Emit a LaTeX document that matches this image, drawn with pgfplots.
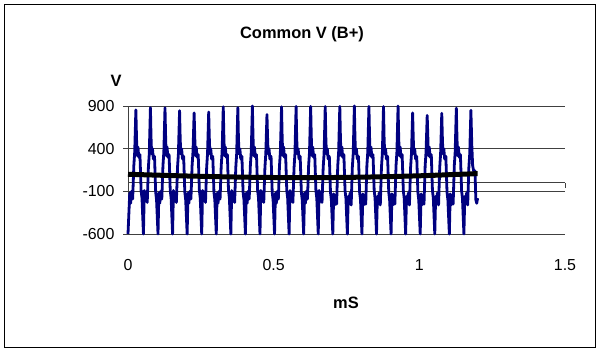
\documentclass[border=0pt]{standalone}
\usepackage{pgfplots}
\pgfplotsset{compat=1.18}
\usepackage{fontspec}
\setmainfont{Liberation Sans}
\definecolor{navy}{HTML}{000080}
\begin{document}
\begin{tikzpicture}
\useasboundingbox (0bp,0bp) rectangle (597bp,349bp);
\draw[black, line width=1bp] (4.5bp,1.5bp) rectangle (595.5bp,344.5bp);
\node[font=\fontsize{16.5}{18}\selectfont\bfseries] at (302bp,315bp) {Common V (B+)};
\node[font=\fontsize{16.5}{18}\selectfont\bfseries] at (116bp,268bp) {V};
\node[font=\fontsize{16.5}{18}\selectfont\bfseries] at (346bp,46bp) {mS};
\begin{axis}[
  at={(128bp,115bp)}, anchor=south west,
  scale only axis, width=437bp, height=128bp,
  xmin=0, xmax=1.5, ymin=-600, ymax=900,
  xtick={0,0.5,1,1.5}, ytick={-600,-100,400,900},
  axis x line*=bottom, axis y line*=left,
  x axis line style={draw=none}, xtick style={draw=none},
  y axis line style={black!75, line width=0.8bp},
  ytick style={black!75, line width=0.8bp},
  tick align=outside, major tick length=5bp,
  ymajorgrids, major grid style={black!75, line width=0.8bp},
  /pgf/number format/assume math mode=true,
  tick label style={font=\fontsize{16}{18}\selectfont},
  yticklabel style={xshift=-5bp},
  xticklabel style={yshift=-17bp},
  clip=false,
]
\draw[black!75, line width=0.8bp] (axis cs:0,0) -- (axis cs:1.5,0);
\draw[black!75, line width=0.8bp] (axis cs:1.5,0) -- (axis cs:1.5,-60);
\addplot[navy, line width=2.8bp, line join=round] coordinates {
(0,-600) (0.006,-120) (0.009,-240) (0.012,-100) (0.016,-190) (0.020,200) (0.023,360) (0.027,855) (0.029,560) (0.031,320) (0.034,420) (0.037,300) (0.041,330) (0.045,-90) (0.048,-180)
(0.053,-600) (0.056,-90) (0.059,-210) (0.062,-140) (0.066,-230) (0.070,180) (0.073,340) (0.077,880) (0.079,540) (0.081,340) (0.084,400) (0.087,280) (0.091,310) (0.095,-110) (0.098,-200)
(0.103,-600) (0.106,-120) (0.109,-240) (0.112,-100) (0.116,-190) (0.120,200) (0.123,360) (0.127,880) (0.129,560) (0.131,320) (0.134,420) (0.137,300) (0.141,330) (0.145,-90) (0.148,-180)
(0.153,-600) (0.156,-90) (0.159,-210) (0.162,-140) (0.166,-230) (0.170,180) (0.173,340) (0.177,845) (0.179,540) (0.181,340) (0.184,400) (0.187,280) (0.191,310) (0.195,-110) (0.198,-200)
(0.203,-600) (0.206,-120) (0.209,-240) (0.212,-100) (0.216,-190) (0.220,200) (0.223,360) (0.227,820) (0.229,560) (0.231,320) (0.234,420) (0.237,300) (0.241,330) (0.245,-90) (0.248,-180)
(0.253,-600) (0.256,-90) (0.259,-210) (0.262,-140) (0.266,-230) (0.270,180) (0.273,340) (0.277,830) (0.279,540) (0.281,340) (0.284,400) (0.287,280) (0.291,310) (0.295,-110) (0.298,-200)
(0.303,-600) (0.306,-120) (0.309,-240) (0.312,-100) (0.316,-190) (0.320,200) (0.323,360) (0.327,890) (0.329,560) (0.331,320) (0.334,420) (0.337,300) (0.341,330) (0.345,-90) (0.348,-180)
(0.353,-600) (0.356,-90) (0.359,-210) (0.362,-140) (0.366,-230) (0.370,180) (0.373,340) (0.377,880) (0.379,540) (0.381,340) (0.384,400) (0.387,280) (0.391,310) (0.395,-110) (0.398,-200)
(0.403,-600) (0.406,-120) (0.409,-240) (0.412,-100) (0.416,-190) (0.420,200) (0.423,360) (0.427,900) (0.429,560) (0.431,320) (0.434,420) (0.437,300) (0.441,330) (0.445,-90) (0.448,-180)
(0.453,-600) (0.456,-90) (0.459,-210) (0.462,-140) (0.466,-230) (0.470,180) (0.473,340) (0.477,800) (0.479,540) (0.481,340) (0.484,400) (0.487,280) (0.491,310) (0.495,-110) (0.498,-200)
(0.503,-600) (0.506,-120) (0.509,-240) (0.512,-100) (0.516,-190) (0.520,200) (0.523,360) (0.527,890) (0.529,560) (0.531,320) (0.534,420) (0.537,300) (0.541,330) (0.545,-90) (0.548,-180)
(0.553,-600) (0.556,-90) (0.559,-210) (0.562,-140) (0.566,-230) (0.570,180) (0.573,340) (0.577,895) (0.579,540) (0.581,340) (0.584,400) (0.587,280) (0.591,310) (0.595,-110) (0.598,-200)
(0.603,-600) (0.606,-120) (0.609,-240) (0.612,-100) (0.616,-190) (0.620,200) (0.623,360) (0.627,895) (0.629,560) (0.631,320) (0.634,420) (0.637,300) (0.641,330) (0.645,-90) (0.648,-180)
(0.653,-600) (0.656,-90) (0.659,-210) (0.662,-140) (0.666,-230) (0.670,180) (0.673,340) (0.677,895) (0.679,540) (0.681,340) (0.684,400) (0.687,280) (0.691,310) (0.695,-110) (0.698,-200)
(0.703,-600) (0.706,-130) (0.709,-260) (0.712,-150) (0.716,-250) (0.720,200) (0.723,360) (0.727,895) (0.729,560) (0.731,320) (0.734,420) (0.737,300) (0.741,330) (0.745,-90) (0.748,-180)
(0.753,-600) (0.756,-160) (0.759,-250) (0.762,-120) (0.766,-260) (0.770,180) (0.773,340) (0.777,900) (0.779,540) (0.781,340) (0.784,400) (0.787,280) (0.791,310) (0.795,-110) (0.798,-200)
(0.803,-600) (0.806,-130) (0.809,-260) (0.812,-150) (0.816,-250) (0.820,200) (0.823,360) (0.827,895) (0.829,560) (0.831,320) (0.834,420) (0.837,300) (0.841,330) (0.845,-90) (0.848,-180)
(0.853,-600) (0.856,-160) (0.859,-250) (0.862,-120) (0.866,-260) (0.870,180) (0.873,340) (0.877,895) (0.879,540) (0.881,340) (0.884,400) (0.887,280) (0.891,310) (0.895,-110) (0.898,-200)
(0.903,-600) (0.906,-130) (0.909,-260) (0.912,-150) (0.916,-250) (0.920,200) (0.923,360) (0.927,900) (0.929,560) (0.931,320) (0.934,420) (0.937,300) (0.941,330) (0.945,-90) (0.948,-180)
(0.953,-600) (0.956,-160) (0.959,-250) (0.962,-120) (0.966,-260) (0.970,180) (0.973,340) (0.977,820) (0.979,540) (0.981,340) (0.984,400) (0.987,280) (0.991,310) (0.995,-110) (0.998,-200)
(1.003,-600) (1.006,-130) (1.009,-260) (1.012,-150) (1.016,-250) (1.020,200) (1.023,360) (1.027,790) (1.029,560) (1.031,320) (1.034,420) (1.037,300) (1.041,330) (1.045,-90) (1.048,-180)
(1.053,-600) (1.056,-160) (1.059,-250) (1.062,-120) (1.066,-260) (1.070,180) (1.073,340) (1.077,815) (1.079,540) (1.081,340) (1.084,400) (1.087,280) (1.091,310) (1.095,-110) (1.098,-200)
(1.103,-600) (1.106,-130) (1.109,-260) (1.112,-150) (1.116,-250) (1.120,200) (1.123,360) (1.127,875) (1.129,560) (1.131,320) (1.134,420) (1.137,300) (1.141,330) (1.145,-90) (1.148,-180)
(1.153,-600) (1.156,-160) (1.159,-250) (1.162,-120) (1.166,-260) (1.170,180) (1.173,340) (1.177,850) (1.180,450) (1.183,200) (1.187,130) (1.191,140) (1.194,-200) (1.197,-240) (1.200,-180)
};
\addplot[black, line width=5bp, smooth] coordinates {
(0,100) (0.2,80) (0.4,66) (0.6,60) (0.8,66) (1.0,82) (1.2,108)
};
\end{axis}
\end{tikzpicture}
\end{document}
